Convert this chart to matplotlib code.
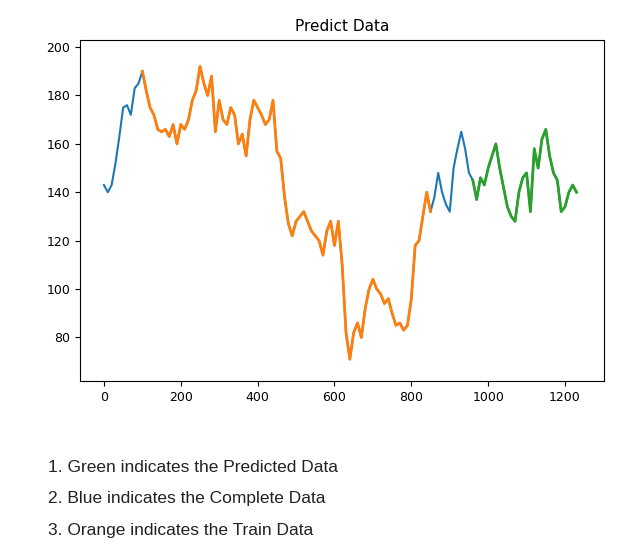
import matplotlib.pyplot as plt
import numpy as np

# values every 10 steps
complete = [143, 140, 143, 152, 163, 175, 176, 172, 183, 185,
            190, 182, 175, 172, 166, 165, 166, 163, 168, 160,
            168, 166, 170, 178, 182, 192, 185, 180, 188, 165,
            178, 170, 168, 175, 172, 160, 164, 155, 170, 178,
            175, 172, 168, 170, 178, 157, 154, 138, 127, 122,
            128, 130, 132, 128, 124, 122, 120, 114, 124, 128,
            118, 128, 110, 82, 71, 82, 86, 80, 92, 100,
            104, 100, 98, 94, 96, 90, 85, 86, 83, 85,
            96, 118, 120, 130, 140, 132, 138, 148, 140, 135,
            132, 150, 158, 165, 158, 148, 145, 137, 146, 143,
            150, 155, 160, 150, 142, 134, 130, 128, 140, 146,
            148, 132, 158, 150, 162, 166, 155, 148, 145, 132,
            134, 140, 143, 140]
step = 10
train_start, train_end = 10, 86    # index range (in steps) of the train data
pred_start = 96                    # predicted data from here to the end

x = np.arange(len(complete)) * step
y = np.array(complete, dtype=float)

fig = plt.figure(figsize=(6.36, 5.53), dpi=100)
ax = fig.add_axes([0.126, 0.311, 0.824, 0.617])
ax.plot(x, y, color='#1f77b4')
ax.plot(x[train_start:train_end], y[train_start:train_end], color='#ff7f0e', linewidth=2)
ax.plot(x[pred_start:], y[pred_start:], color='#2ca02c', linewidth=2)
ax.set_title('Predict Data', fontsize=11)
ax.set_xlim(-62, 1302)
ax.set_ylim(62, 203)
ax.set_xticks([0, 200, 400, 600, 800, 1000, 1200])
ax.set_yticks([80, 100, 120, 140, 160, 180, 200])
ax.tick_params(labelsize=9)

notes = ['1. Green indicates the Predicted Data',
         '2. Blue indicates the Complete Data',
         '3. Orange indicates the Train Data']
for k, t in enumerate(notes):
    fig.text(0.075, 1 - (467 + 32 * k) / 553, t, fontsize=12.5,
             family='Liberation Sans', va='center', color='#222222')

fig.savefig('out.png', dpi=100)
